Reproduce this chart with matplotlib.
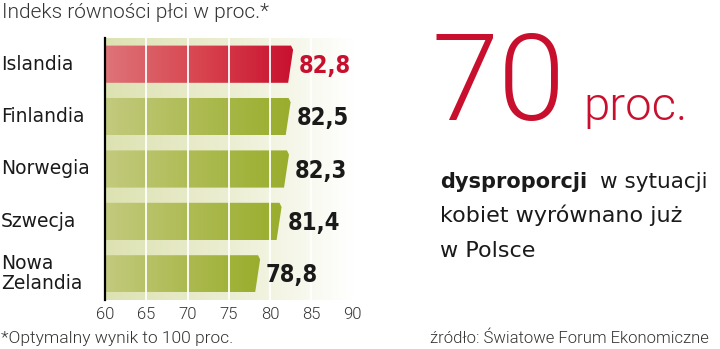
import numpy as np
import matplotlib
matplotlib.use("Agg")
import matplotlib.pyplot as plt
from matplotlib.colors import LinearSegmentedColormap
from matplotlib.patches import Polygon

# dane
countries = ["Islandia", "Finlandia", "Norwegia", "Szwecja", "Nowa\nZelandia"]
values = [82.8, 82.5, 82.3, 81.4, 78.8]
value_labels = ["82,8", "82,5", "82,3", "81,4", "78,8"]
xticks = [60, 65, 70, 75, 80, 85, 90]

title = "Indeks równości płci w proc.*"
footnote = "*Optymalny wynik to 100 proc."
source = "źródło: Światowe Forum Ekonomiczne"
big_number = "70"
big_unit = "proc."
desc_bold = "dysproporcji"
desc_rest = ["w sytuacji", "kobiet wyrównano już", "w Polsce"]

RED = "#c8102e"
DARK = "#1a1a1a"
LIGHT_FONT = ["Roboto", "DejaVu Sans"]

fig = plt.figure(figsize=(7.2, 3.49), dpi=100)
W, H = 720, 349

def fx(px):
    return px / W

def fy(py):
    return 1 - py / H

ax = fig.add_axes([fx(105), fy(300), fx(352.5) - fx(105), fy(38) - fy(300)])
ax.set_xlim(60, 90)
ax.set_ylim(4.5, -0.5)

# tło panelu
bg_cmap = LinearSegmentedColormap.from_list("bg", ["#dde2b2", "#eceed2", "#ffffff"])
grad = np.linspace(0, 1, 256).reshape(1, -1)
ax.imshow(grad, cmap=bg_cmap, extent=(60, 90, 4.5, -0.5), aspect="auto", zorder=0)

red_cmap = LinearSegmentedColormap.from_list("red", ["#de7479", "#d8454f", "#c8102e"])
green_cmap = LinearSegmentedColormap.from_list("green", ["#c3ca7e", "#adbb52", "#9aad2c"])

h = 0.71
for i, v in enumerate(values):
    y0, y1 = i - h / 2, i + h / 2
    poly = Polygon([(60, y0), (v - 0.25, y0), (v, y0 + 0.08), (v - 0.6, y1), (60, y1)],
                   closed=True, facecolor="none", edgecolor="none")
    ax.add_patch(poly)
    cmap = red_cmap if i == 0 else green_cmap
    im = ax.imshow(grad, cmap=cmap, extent=(60, v, y1, y0), aspect="auto", zorder=2)
    im.set_clip_path(poly)
    ax.text(v + 0.7, i + 0.03, value_labels[i], ha="left", va="center",
            fontsize=17, fontweight="bold", fontstretch="condensed",
            family=["DejaVu Sans"], color=RED if i == 0 else DARK, zorder=5)

for x in xticks[1:-1]:
    ax.axvline(x, color="white", lw=1.3, zorder=3)

ax.set_xlim(60, 90)
ax.set_ylim(4.5, -0.5)
for s in ["top", "right", "bottom"]:
    ax.spines[s].set_visible(False)
ax.spines["left"].set_color("black")
ax.spines["left"].set_linewidth(1.6)
ax.spines["left"].set_zorder(6)
ax.set_yticks([])
ax.set_xticks(xticks)
ax.set_xticklabels([str(t) for t in xticks], family=LIGHT_FONT,
                   fontweight=300, fontsize=12, color="#333333")
ax.tick_params(axis="x", length=0, pad=5)

# etykiety krajów
for i, c in enumerate(countries):
    ax.text(-0.42, i, c, transform=ax.get_yaxis_transform(), ha="left", va="center",
            fontsize=13.5, color=DARK, linespacing=1.05)

# tytuł i przypisy
fig.text(fx(2), fy(13), title, ha="left", va="center", family=LIGHT_FONT,
         fontweight=300, fontsize=15, color="#333333")
fig.text(fx(1), fy(338), footnote, ha="left", va="center", family=LIGHT_FONT,
         fontweight=300, fontsize=12.5, color="#333333")
fig.text(fx(709), fy(338), source, ha="right", va="center", family=LIGHT_FONT,
         fontweight=300, fontsize=12, color="#333333")

# prawa strona
fig.text(fx(432), fy(120), big_number, ha="left", va="baseline", family=LIGHT_FONT,
         fontweight=300, fontsize=87, color=RED)
fig.text(fx(583), fy(120), big_unit, ha="left", va="baseline", family=LIGHT_FONT,
         fontweight=300, fontsize=34, color=RED)

fig.text(fx(440), fy(188), desc_bold, ha="left", va="baseline", fontsize=15,
         fontweight="bold", color=DARK)
fig.text(fx(600), fy(188), desc_rest[0], ha="left", va="baseline", fontsize=15.5, color=DARK)
fig.text(fx(440), fy(222), desc_rest[1], ha="left", va="baseline", fontsize=16, color=DARK)
fig.text(fx(440), fy(257), desc_rest[2], ha="left", va="baseline", fontsize=16, color=DARK)

fig.savefig("out.png", dpi=100, facecolor="white")
